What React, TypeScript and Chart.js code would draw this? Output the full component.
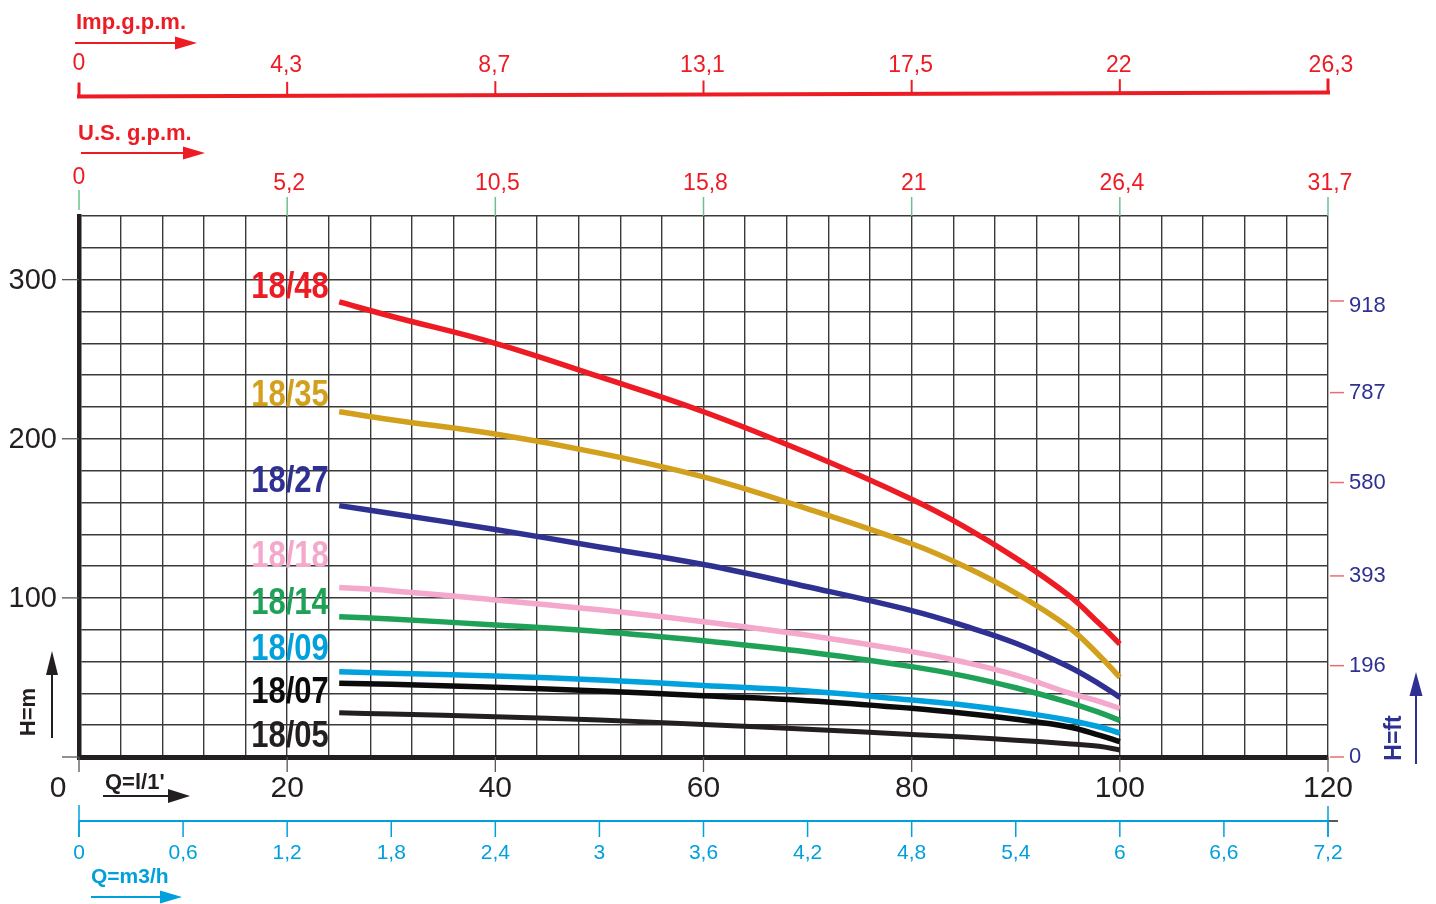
import React, { useEffect, useRef } from 'react';
import { Chart, registerables } from 'chart.js';

Chart.register(...registerables);

// ---------- DATA ----------
const flowLpm = [25, 30, 40, 50, 60, 70, 80, 85, 90, 95, 98, 100];
const head1848 = [286, 277, 260, 239, 217, 191, 162, 145, 125, 102, 84, 71];
const head1835 = [217, 212, 203, 191, 176, 156, 134, 120, 103, 82, 64, 50];
const head1827 = [158, 153, 143, 132, 121, 107, 92, 82.5, 71.5, 57, 46, 37.5];
const head1818 = [106.5, 104.5, 98.7, 92.5, 85, 76.5, 66.2, 59.7, 51.5, 40.5, 35, 30.5];
const head1814 = [88.2, 86.7, 83, 78.8, 73, 66, 56.8, 51, 43.5, 34.5, 28, 23];
const head1809 = [53.6, 52.6, 50.9, 48.4, 45, 41.5, 35.8, 32.7, 28.5, 23.3, 19, 15];
const head1807 = [46.3, 45.7, 43.8, 41.5, 38.5, 35.4, 30.6, 27.5, 23.7, 19, 13.8, 9.6];
const head1805 = [27.8, 27, 25.3, 23.2, 20.5, 17.5, 14.2, 12.5, 10.6, 8.4, 6.7, 4.4];

const modelNames = ['18/48', '18/35', '18/27', '18/18', '18/14', '18/09', '18/07', '18/05'];
const modelHeads = [head1848, head1835, head1827, head1818, head1814, head1809, head1807, head1805];

// tick labels
const flowMainTicks = [0, 20, 40, 60, 80, 100, 120]; // l/min
const impGpmLabels = ['0', '4,3', '8,7', '13,1', '17,5', '22', '26,3'];
const usGpmLabels = ['0', '5,2', '10,5', '15,8', '21', '26,4', '31,7'];
const m3hFlowTicks = [0, 10, 20, 30, 40, 50, 60, 70, 80, 90, 100, 110, 120]; // l/min
const m3hLabels = ['0', '0,6', '1,2', '1,8', '2,4', '3', '3,6', '4,2', '4,8', '5,4', '6', '6,6', '7,2'];
const headMTicks = [100, 200, 300];
const ftLabels = ['918', '787', '580', '393', '196', '0'];
const ftTickAtM = [286.6, 229, 172.5, 113.8, 57.4, 0];

// ---------- STYLE ----------
const modelColors = ['#ed1c24', '#d3a01e', '#2e3192', '#f4a8cb', '#1fa257', '#00a1dc', '#0b0b0b', '#231f20'];
const modelWidths = [5.5, 5.5, 5.5, 5.5, 5.5, 5.5, 5.5, 5];
// label anchors (right edge in l/min, baseline in m)
const labelAnchorX = 24.0;
const labelAnchorY = [288.5, 220.6, 166.6, 119.4, 89.9, 61.0, 34.0, 6.3];

const FONT = '"Liberation Sans", Arial, Helvetica, sans-serif';
const f = (size: number, bold = false) => `${bold ? 'bold ' : ''}${size}px ${FONT}`;
const RED = '#ed1c24';
const BLUE = '#00a0dc';
const NAVY = '#2e3192';
const BLACK = '#231f20';

function arrow(ctx: CanvasRenderingContext2D, x1: number, y1: number, x2: number, y2: number, head: number, half: number, color: string, lw: number) {
  const ang = Math.atan2(y2 - y1, x2 - x1);
  const bx = x2 - head * Math.cos(ang);
  const by = y2 - head * Math.sin(ang);
  ctx.strokeStyle = color;
  ctx.fillStyle = color;
  ctx.lineWidth = lw;
  ctx.beginPath();
  ctx.moveTo(x1, y1);
  ctx.lineTo(bx, by);
  ctx.stroke();
  ctx.beginPath();
  ctx.moveTo(x2, y2);
  ctx.lineTo(bx + half * Math.sin(ang), by - half * Math.cos(ang));
  ctx.lineTo(bx - half * Math.sin(ang), by + half * Math.cos(ang));
  ctx.closePath();
  ctx.fill();
}

function line(ctx: CanvasRenderingContext2D, x1: number, y1: number, x2: number, y2: number, color: string, lw: number) {
  ctx.strokeStyle = color;
  ctx.lineWidth = lw;
  ctx.beginPath();
  ctx.moveTo(x1, y1);
  ctx.lineTo(x2, y2);
  ctx.stroke();
}

const decorPlugin = {
  id: 'decor',
  afterDraw(chart: any) {
    const { ctx, chartArea: ca } = chart;
    const xs = chart.scales.x;
    const ys = chart.scales.y;
    const px = (v: number) => xs.getPixelForValue(v);
    const py = (v: number) => ys.getPixelForValue(v);
    ctx.save();

    // ---- main x axis (l/min) ----
    ctx.font = f(30);
    ctx.fillStyle = BLACK;
    ctx.textAlign = 'center';
    ctx.textBaseline = 'middle';
    flowMainTicks.forEach((v) => {
      const x = px(v);
      line(ctx, x, ca.bottom, x, ca.bottom + 15, '#555', 1.3);
      ctx.fillText(String(v), v === 0 ? x - 21 : x, 789);
    });
    ctx.font = f(22, true);
    ctx.textAlign = 'left';
    ctx.textBaseline = 'alphabetic';
    ctx.fillText("Q=l/1'", 105, 789);
    arrow(ctx, 103, 796, 190, 796, 22, 7, BLACK, 2);

    // ---- left y axis (m) ----
    [0, ...headMTicks].forEach((v) => {
      const y = py(v);
      line(ctx, ca.left - 17, y, ca.left, y, '#555', 1.3);
    });
    ctx.font = f(29);
    ctx.fillStyle = BLACK;
    ctx.textAlign = 'right';
    ctx.textBaseline = 'middle';
    headMTicks.forEach((v) => ctx.fillText(String(v), 57, py(v) + 1));
    ctx.save();
    ctx.translate(29, 712);
    ctx.rotate(-Math.PI / 2);
    ctx.font = f(22, true);
    ctx.textAlign = 'center';
    ctx.textBaseline = 'middle';
    ctx.fillText('H=m', 0, 0);
    ctx.restore();
    arrow(ctx, 52, 738, 52, 651, 24, 6, BLACK, 2);

    // ---- right y axis (ft) ----
    ctx.font = f(22);
    ctx.textAlign = 'left';
    ctx.textBaseline = 'middle';
    ftLabels.forEach((lab, i) => {
      const y = py(ftTickAtM[i]);
      line(ctx, ca.right + 2, y, ca.right + 16, y, '#ef6b73', 1.5);
      ctx.fillStyle = NAVY;
      ctx.fillText(lab, ca.right + 21, y + (i === 0 ? 5 : 0));
    });
    ctx.save();
    ctx.translate(1395, 738);
    ctx.rotate(-Math.PI / 2);
    ctx.font = f(23, true);
    ctx.fillStyle = NAVY;
    ctx.textAlign = 'center';
    ctx.textBaseline = 'middle';
    ctx.fillText('H=ft', 0, 0);
    ctx.restore();
    arrow(ctx, 1416, 764, 1416, 672, 24, 6.5, NAVY, 2);

    // ---- Imp. g.p.m. axis ----
    const impY = (x: number) => 96.5 - 4 * (x - px(0)) / (px(120) - px(0));
    ctx.lineCap = 'square';
    line(ctx, px(0), impY(px(0)), px(120), impY(px(120)), RED, 4);
    ctx.lineCap = 'butt';
    flowMainTicks.forEach((v, i) => {
      const x = px(v);
      const yb = impY(x);
      line(ctx, x, yb, x, yb - 14, RED, i === 0 || i === 6 ? 3 : 2);
    });
    ctx.font = f(23);
    ctx.fillStyle = RED;
    ctx.textAlign = 'center';
    ctx.textBaseline = 'middle';
    flowMainTicks.forEach((v, i) => {
      ctx.fillText(impGpmLabels[i], px(v) + (i === 6 ? 3 : i === 0 ? 0 : -1), i === 0 ? 64 : 66);
    });
    ctx.font = f(22, true);
    ctx.textAlign = 'left';
    ctx.textBaseline = 'alphabetic';
    ctx.fillText('Imp.g.p.m.', 76, 29);
    arrow(ctx, 75, 43, 197, 43, 22, 6.5, RED, 2);

    // ---- U.S. g.p.m. axis ----
    flowMainTicks.forEach((v, i) => {
      const x = px(v);
      line(ctx, x, i === 0 ? 190 : 197, x, i === 0 ? 210 : ca.top, '#6cc08b', 1.5);
    });
    ctx.font = f(23);
    ctx.fillStyle = RED;
    ctx.textAlign = 'center';
    ctx.textBaseline = 'middle';
    flowMainTicks.forEach((v, i) => {
      ctx.fillText(usGpmLabels[i], px(v) + (i === 0 ? 0 : 2), i === 0 ? 178 : 184);
    });
    ctx.font = f(22, true);
    ctx.textAlign = 'left';
    ctx.textBaseline = 'alphabetic';
    ctx.fillText('U.S. g.p.m.', 78, 140);
    arrow(ctx, 81, 153, 205, 153, 22, 6.5, RED, 2);

    // ---- m3/h axis ----
    line(ctx, px(0), 821, px(120), 821, BLUE, 2);
    line(ctx, px(120), 821, px(120) + 10, 821, BLACK, 1.5);
    line(ctx, px(0), 805, px(0), 837, BLUE, 1.5);
    line(ctx, px(120), 806, px(120), 837, BLUE, 1.5);
    m3hFlowTicks.forEach((v) => {
      const x = px(v);
      line(ctx, x, 821, x, 837, BLUE, 1.5);
    });
    ctx.font = f(21);
    ctx.fillStyle = BLUE;
    ctx.textAlign = 'center';
    ctx.textBaseline = 'middle';
    m3hFlowTicks.forEach((v, i) => {
      ctx.fillText(m3hLabels[i], px(v), 853);
    });
    ctx.font = f(21, true);
    ctx.textAlign = 'left';
    ctx.textBaseline = 'alphabetic';
    ctx.fillText('Q=m3/h', 91, 883);
    arrow(ctx, 91, 897, 182, 897, 22, 6.5, BLUE, 2);

    // ---- curve labels ----
    modelNames.forEach((name, i) => {
      ctx.save();
      ctx.translate(px(labelAnchorX), py(labelAnchorY[i]));
      ctx.scale(0.86, 1);
      ctx.font = f(36, true);
      ctx.fillStyle = modelColors[i];
      ctx.textAlign = 'right';
      ctx.textBaseline = 'alphabetic';
      ctx.fillText(name, 0, 0);
      ctx.restore();
    });

    ctx.restore();
  },
};

export default function App() {
  const ref = useRef<HTMLCanvasElement>(null);
  useEffect(() => {
    if (!ref.current) return;
    const chart = new Chart(ref.current, {
      type: 'line',
      data: {
        datasets: modelNames.map((name, i) => ({
          label: name,
          data: flowLpm.map((q, j) => ({ x: q, y: modelHeads[i][j] })),
          borderColor: modelColors[i],
          backgroundColor: modelColors[i],
          borderWidth: modelWidths[i],
          pointRadius: 0,
          fill: false,
          tension: 0.4,
        })),
      },
      options: {
        responsive: false,
        animation: false,
        devicePixelRatio: 1,
        layout: { padding: { top: 216, right: 108, left: 0, bottom: 0 } },
        plugins: { legend: { display: false }, tooltip: { enabled: false } },
        scales: {
          x: {
            type: 'linear',
            min: 0,
            max: 120,
            position: 'bottom',
            ticks: { display: false, stepSize: 4 },
            grid: { color: '#3a3a3a', lineWidth: 1.4, drawTicks: false },
            border: { display: true, color: BLACK, width: 5 },
            afterFit: (s: any) => { s.height = 147; },
          },
          y: {
            type: 'linear',
            min: 0,
            max: 340,
            position: 'left',
            ticks: { display: false, stepSize: 20 },
            grid: { color: '#3a3a3a', lineWidth: 1.4, drawTicks: false },
            border: { display: true, color: BLACK, width: 4.5 },
            afterFit: (s: any) => { s.width = 79; },
          },
        },
      } as any,
      plugins: [decorPlugin],
    });
    return () => chart.destroy();
  }, []);
  return (
    <div style={{ position: 'absolute', left: 0, top: 0, width: 1436, height: 904, background: '#fff' }}>
      <canvas ref={ref} width={1436} height={904} style={{ display: 'block', width: 1436, height: 904 }} />
    </div>
  );
}
